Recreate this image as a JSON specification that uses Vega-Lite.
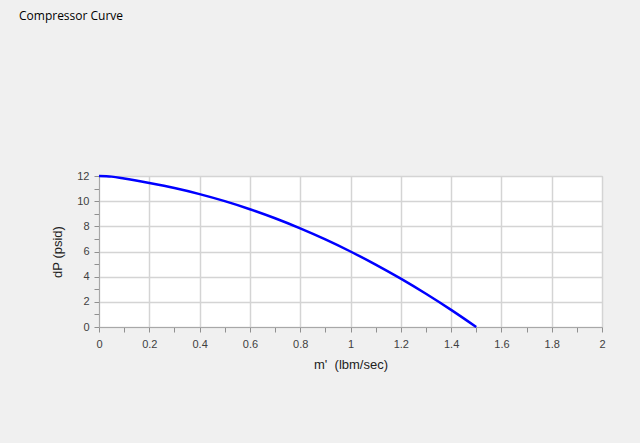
{
  "$schema": "https://vega.github.io/schema/vega-lite/v6.json",
  "width": 503,
  "height": 151,
  "autosize": {"type": "none"},
  "padding": {"left": 99, "top": 176, "right": 38, "bottom": 116},
  "background": "#f0f0f0",
  "title": {
    "text": "Compressor Curve",
    "anchor": "start",
    "frame": "group",
    "orient": "top",
    "baseline": "bottom",
    "offset": 0,
    "dx": -80,
    "dy": -135,
    "font": "Open Sans",
    "fontSize": 12,
    "fontWeight": "normal",
    "color": "#000000"
  },
  "config": {
    "view": {"fill": "#ffffff", "stroke": "#c8c8c8", "strokeWidth": 1},
    "axis": {
      "labelFont": "Liberation Sans",
      "labelFontSize": 11,
      "labelColor": "#404040",
      "titleFont": "Liberation Sans",
      "titleFontSize": 13,
      "titleFontWeight": "normal",
      "titleColor": "#222222",
      "domainColor": "#a8a8a8",
      "tickColor": "#909090",
      "tickSize": 5,
      "gridColor": "#d4d4d4",
      "gridWidth": 1.5
    }
  },
  "data": {
    "values": [
      {"m": 0.0, "dP": 12.0},
      {"m": 0.05, "dP": 11.95},
      {"m": 0.1, "dP": 11.8},
      {"m": 0.2, "dP": 11.44},
      {"m": 0.3, "dP": 11.04},
      {"m": 0.4, "dP": 10.56},
      {"m": 0.5, "dP": 10.0},
      {"m": 0.6, "dP": 9.36},
      {"m": 0.7, "dP": 8.64},
      {"m": 0.8, "dP": 7.84},
      {"m": 0.9, "dP": 6.96},
      {"m": 1.0, "dP": 6.0},
      {"m": 1.1, "dP": 4.96},
      {"m": 1.2, "dP": 3.84},
      {"m": 1.3, "dP": 2.64},
      {"m": 1.4, "dP": 1.36},
      {"m": 1.5, "dP": 0.0}
    ]
  },
  "mark": {"type": "line", "color": "#0000ff", "strokeWidth": 2.5, "interpolate": "monotone"},
  "encoding": {
    "x": {
      "field": "m",
      "type": "quantitative",
      "scale": {"domain": [0, 2], "nice": false, "zero": false},
      "axis": {
        "title": "m'\u00a0 (lbm/sec)",
        "values": [0, 0.1, 0.2, 0.3, 0.4, 0.5, 0.6, 0.7, 0.8, 0.9, 1, 1.1, 1.2, 1.3, 1.4, 1.5, 1.6, 1.7, 1.8, 1.9, 2],
        "labelExpr": "round(datum.value*10)%2==0 ? format(datum.value, '~g') : ''",
        "labelPadding": 6,
        "titlePadding": 9,
        "gridOpacity": {"condition": {"test": "round(datum.value*10)%2==0", "value": 1}, "value": 0},
        "labelFlush": false,
        "labelOverlap": false
      }
    },
    "y": {
      "field": "dP",
      "type": "quantitative",
      "scale": {"domain": [0, 12], "nice": false},
      "axis": {
        "title": "dP (psid)",
        "values": [0, 1, 2, 3, 4, 5, 6, 7, 8, 9, 10, 11, 12],
        "labelExpr": "datum.value%2==0 ? format(datum.value, '~g') : ''",
        "labelPadding": 5,
        "titlePadding": 12,
        "gridOpacity": {"condition": {"test": "datum.value%2==0", "value": 1}, "value": 0},
        "labelFlush": false,
        "labelOverlap": false
      }
    }
  }
}
